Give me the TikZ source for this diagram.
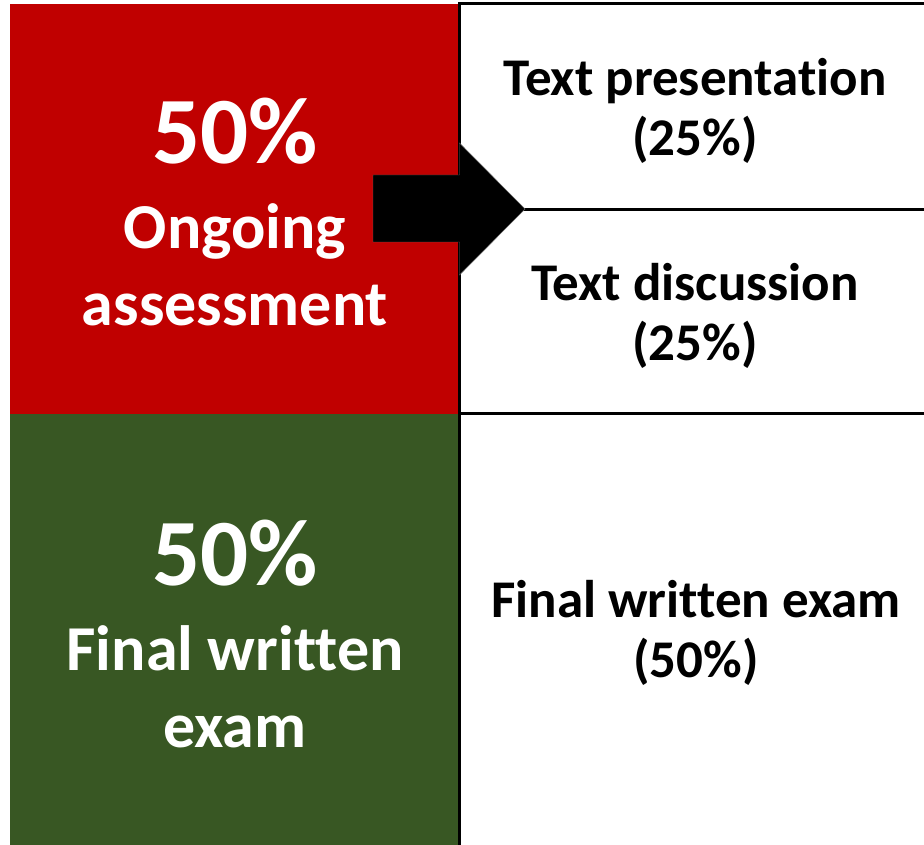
\documentclass[tikz,border=0pt]{standalone}
\usepackage{fontspec}
\setmainfont[Ligatures=NoCommon]{Carlito}
\definecolor{ongoingred}{HTML}{C00000}
\definecolor{examgreen}{HTML}{385723}
\begin{document}
\begin{tikzpicture}[x=1pt,y=-1pt,
  panel/.style={draw=none, inner sep=0pt, outer sep=0pt, anchor=north west},
  rule/.style={line width=3pt, black, line cap=rect},
  pct/.style={font=\fontsize{95}{100}\selectfont\bfseries, text=white, anchor=base, inner sep=0pt},
  lefttext/.style={font=\fontsize{64}{70}\selectfont\bfseries, text=white, anchor=base, inner sep=0pt},
  righttext/.style={font=\fontsize{53}{60}\selectfont\bfseries, text=black, anchor=base, inner sep=0pt},
  blockarrow/.style={fill=black, draw=black!60, line width=0.4pt}
]
\useasboundingbox (0,0) rectangle (924,845);

% coloured category panels
\node[panel, fill=ongoingred, minimum width=449.5pt, minimum height=409.5pt] (ongoing) at (10,4) {};
\node[panel, fill=examgreen, minimum width=449.5pt, minimum height=431.5pt] (final) at (10,413.5) {};

% component panels on the right
\node[panel, minimum width=464.5pt, minimum height=205.5pt] (pres) at (459.5,4) {};
\node[panel, minimum width=464.5pt, minimum height=204pt] (disc) at (459.5,209.5) {};
\node[panel, minimum width=464.5pt, minimum height=431.5pt] (exam) at (459.5,413.5) {};

% rules
\draw[rule] (pres.north west) -- (exam.south west);
\draw[rule] (pres.north west) -- (pres.north east);
\draw[rule] (disc.north west) -- (disc.north east);
\draw[rule] (exam.north west) -- (exam.north east);

% block arrow
\draw[blockarrow] (373,175) -- (459.5,175) -- (459.5,143) -- (525,209) -- (459.5,275)
  -- (459.5,242) -- (373,242) -- cycle;

% left labels
\node[pct] (ongoingpct) at (235,164) {50\%};
\node[lefttext] (ongoingA) at (235,249) {Ongoing};
\node[lefttext] (ongoingB) at (235,325) {assessment};
\node[pct] (finalpct) at (235,585) {50\%};
\node[lefttext] (finalA) at (235,670) {Final written};
\node[lefttext] (finalB) at (235,747) {exam};

% right labels
\node[righttext] (presA) at (695,96) {Text presentation};
\node[righttext] (presB) at (695,156) {(25\%)};
\node[righttext] (discA) at (695,300) {Text discussion};
\node[righttext] (discB) at (695,360) {(25\%)};
\node[righttext] (examA) at (696,617) {Final written exam};
\node[righttext] (examB) at (696,677) {(50\%)};
\end{tikzpicture}
\end{document}
